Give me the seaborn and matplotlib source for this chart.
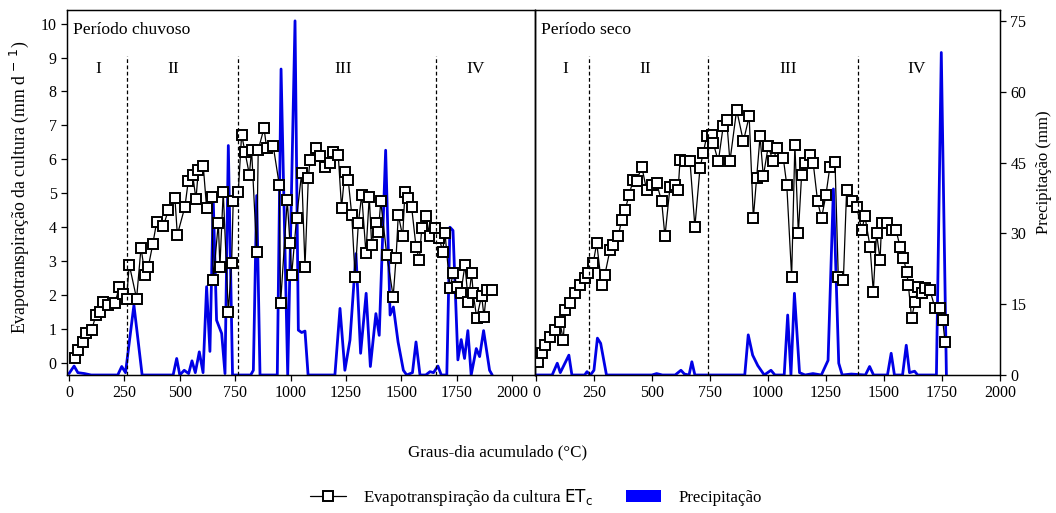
import matplotlib
matplotlib.use("Agg")
import matplotlib.pyplot as plt
import seaborn as sns
from matplotlib.lines import Line2D
from matplotlib.patches import Patch

# Evapotranspiration (ETc) - rainy period
gd_et_chuvoso = [27, 42, 62, 77, 102, 122, 140, 155, 177, 208, 227, 245, 260, 272, 305,
                 325, 343, 358, 378, 396, 426, 448, 478, 489, 523, 538, 558, 573, 584, 606,
                 621, 644, 651, 674, 681, 696, 719, 734, 741, 764, 779, 794, 814, 824, 847,
                 854, 880, 892, 922, 949, 955, 985, 997, 1005, 1027, 1050, 1065, 1080, 1088,
                 1115, 1133, 1155, 1178, 1193, 1215, 1230, 1245, 1260, 1276, 1291, 1306,
                 1321, 1340, 1355, 1366, 1385, 1396, 1407, 1434, 1463, 1476, 1486, 1506,
                 1516, 1531, 1546, 1566, 1581, 1592, 1611, 1629, 1652, 1671, 1686, 1697,
                 1719, 1734, 1752, 1768, 1787, 1802, 1817, 1824, 1840, 1862, 1873, 1885, 1910]
et_chuvoso = [0.15, 0.38, 0.63, 0.88, 0.97, 1.42, 1.51, 1.80, 1.71, 1.77, 2.25, 2.05, 1.90,
              2.90, 1.90, 3.40, 2.60, 2.84, 3.50, 4.17, 4.04, 4.50, 4.86, 3.78, 4.60, 5.35,
              5.55, 4.83, 5.70, 5.80, 4.57, 4.90, 2.45, 4.14, 2.84, 5.05, 1.51, 2.95, 4.76,
              5.05, 6.73, 6.23, 5.55, 6.28, 3.28, 6.28, 6.92, 6.34, 6.38, 5.25, 1.77, 4.80,
              3.54, 2.60, 4.27, 5.60, 2.84, 5.45, 5.99, 6.34, 6.09, 5.79, 5.90, 6.23, 6.14,
              4.57, 5.64, 5.40, 4.37, 2.55, 4.13, 4.96, 3.24, 4.90, 3.48, 4.13, 3.87, 4.76,
              3.19, 1.96, 3.10, 4.37, 3.73, 5.05, 4.87, 4.61, 3.43, 3.04, 3.98, 4.32, 3.73,
              3.98, 3.69, 3.28, 3.83, 2.20, 2.65, 2.25, 2.06, 2.89, 1.81, 2.65, 2.06, 1.33,
              1.99, 1.37, 2.15, 2.15]

# Evapotranspiration (ETc) - dry period
gd_et_seco = [10, 25, 39, 60, 82, 103, 118, 125, 147, 168, 190, 211, 225, 247, 262, 283,
              297, 319, 333, 355, 369, 384, 402, 419, 434, 456, 477, 499, 520, 542, 556,
              578, 599, 613, 621, 642, 664, 685, 707, 721, 736, 757, 764, 786, 807, 822,
              836, 865, 894, 919, 937, 951, 966, 980, 1001, 1023, 1038, 1066, 1081, 1102,
              1116, 1131, 1145, 1159, 1181, 1195, 1214, 1231, 1250, 1267, 1289, 1303, 1325,
              1339, 1361, 1382, 1404, 1418, 1440, 1454, 1468, 1483, 1490, 1512, 1533, 1552,
              1569, 1583, 1598, 1605, 1619, 1634, 1648, 1662, 1677, 1698, 1720, 1741, 1753,
              1763]
et_seco = [0.04, 0.29, 0.53, 0.78, 0.97, 1.22, 0.68, 1.56, 1.77, 2.06, 2.30, 2.50, 2.65,
           2.95, 3.54, 2.30, 2.60, 3.33, 3.48, 3.73, 4.22, 4.51, 4.96, 5.40, 5.35, 5.79,
           5.10, 5.25, 5.30, 4.76, 3.73, 5.20, 5.25, 5.10, 5.99, 5.94, 5.94, 4.02, 5.74,
           6.19, 6.68, 6.73, 6.49, 5.94, 6.97, 7.17, 5.94, 7.46, 6.53, 7.27, 4.27, 5.45,
           6.68, 5.50, 6.38, 5.94, 6.34, 6.04, 5.25, 2.55, 6.43, 3.83, 5.55, 5.89, 6.14,
           5.89, 4.76, 4.27, 4.96, 5.79, 5.92, 2.55, 2.45, 5.10, 4.76, 4.61, 3.92, 4.32,
           3.43, 2.10, 3.83, 3.04, 4.13, 4.13, 3.92, 3.92, 3.43, 3.10, 2.69, 2.30, 1.33,
           1.81, 2.25, 2.06, 2.20, 2.15, 1.62, 1.62, 1.27, 0.63]

# Precipitation - rainy period
gd_p_chuvoso = [0, 23, 40, 70, 100, 220, 238, 255, 293, 330, 470, 486, 500, 520, 540, 555,
                570, 588, 605, 621, 636, 651, 666, 689, 704, 719, 738, 820, 832, 847, 862,
                940, 957, 987, 1020, 1035, 1050, 1065, 1079, 1200, 1223, 1245, 1268, 1295,
                1316, 1341, 1360, 1385, 1400, 1429, 1449, 1464, 1485, 1509, 1524, 1550, 1566,
                1584, 1610, 1629, 1645, 1665, 1680, 1705, 1719, 1733, 1755, 1770, 1785, 1800,
                1815, 1838, 1853, 1871, 1898, 1910]
p_chuvoso = [0.3, 1.9, 0.5, 0.3, 0, 0, 1.8, 0.5, 14.8, 0, 0, 3.5, 0, 1.0, 0.3, 3.0,
             0.5, 4.9, 0.5, 18.7, 5.0, 37.0, 11.6, 8.8, 0.3, 48.6, 0, 0, 1.0, 38.0, 0,
             0, 64.8, 0, 75.0, 9.5, 9.0, 9.3, 0, 0, 14.1, 1.0, 7.4, 25.7,
             4.6, 17.3, 1.8, 13.0, 8.4, 47.6, 12.7, 14.4, 7.0, 1.0, 0, 0.5, 7.0,
             0, 0, 0.7, 0.5, 1.9, 0, 0, 31.3, 30.6, 3.2, 7.5, 3.5, 9.4,
             0, 5.6, 3.9, 9.4, 1.0, 0]

# Precipitation - dry period
gd_p_seco = [0, 70, 92, 105, 142, 155, 210, 220, 235, 250, 265, 279, 304, 500, 520, 545,
             600, 625, 640, 660, 672, 685, 900, 915, 934, 956, 984, 1013, 1030, 1070, 1085,
             1099, 1114, 1136, 1160, 1194, 1230, 1259, 1282, 1305, 1320, 1359, 1420, 1438,
             1455, 1515, 1531, 1545, 1580, 1596, 1610, 1632, 1645, 1726, 1747, 1769]
p_seco = [0, 0, 2.5, 0.5, 4.2, 0, 0, 0.7, 0, 1.0, 7.8, 6.7, 0, 0, 0.3, 0,
          0, 1.0, 0.2, 0, 2.8, 0, 0, 8.5, 4.2, 2.0, 0, 1.0, 0, 0, 12.7,
          0, 17.3, 0.5, 0, 0.3, 0, 3.1, 39.4, 2.5, 0, 0.2, 0, 1.8,
          0, 0, 4.6, 0, 0, 6.3, 0.5, 0.8, 0, 0, 68.3, 0]

# Phenological phase limits and labels
fases_chuvoso = [260, 761, 1655]
fases_seco = [230, 743, 1389]
rotulos = ["I", "II", "III", "IV"]
pos_rotulos_chuvoso = [132, 471, 1238, 1835]
pos_rotulos_seco = [125, 470, 1087, 1641]

sns.set_style("ticks")
plt.rcParams["font.family"] = ["Liberation Serif", "DejaVu Serif"]
plt.rcParams["mathtext.fontset"] = "dejavusans"
plt.rcParams["axes.edgecolor"] = "black"
plt.rcParams["xtick.color"] = "black"
plt.rcParams["ytick.color"] = "black"
plt.rcParams["text.color"] = "black"
plt.rcParams["axes.labelcolor"] = "black"

fig = plt.figure(figsize=(10.56, 5.13), dpi=100)
W, H = 1056, 513
bottom, top = 375, 10
ax1 = fig.add_axes([67 / W, 1 - bottom / H, (535 - 67) / W, (bottom - top) / H])
ax2 = fig.add_axes([535 / W, 1 - bottom / H, (1000 - 535) / W, (bottom - top) / H], sharey=ax1)
ax1t = ax1.twinx()
ax2t = ax2.twinx()

blue = "#0000e6"
et_style = dict(color="black", lw=0.9, marker="s", markersize=7.4,
                markerfacecolor="white", markeredgecolor="black", markeredgewidth=1.4)

panels = [
    (ax1, ax1t, gd_et_chuvoso, et_chuvoso, gd_p_chuvoso, p_chuvoso, fases_chuvoso,
     pos_rotulos_chuvoso, "Período chuvoso", (-9, 2103)),
    (ax2, ax2t, gd_et_seco, et_seco, gd_p_seco, p_seco, fases_seco,
     pos_rotulos_seco, "Período seco", (-4, 2000)),
]

for ax, axt, gd_et, et, gd_p, p, fases, pos_rot, titulo, xlim in panels:
    sns.lineplot(x=gd_p, y=p, ax=axt, color=blue, lw=2, legend=False)
    sns.lineplot(x=gd_et, y=et, ax=ax, legend=False, **et_style)
    ax.set_zorder(axt.get_zorder() + 1)
    ax.patch.set_visible(False)
    ax.vlines(fases, -0.35, 9.05, colors="black", linestyles=(0, (3, 2)), lw=0.9)
    for r, xr in zip(rotulos, pos_rot):
        ax.text(xr, 8.65, r, ha="center", va="center", fontsize=12.5)
    ax.text(0.012, 0.945, titulo, transform=ax.transAxes, ha="left", va="center", fontsize=12.6)
    ax.set_xlim(*xlim)
    ax.set_xticks([0, 250, 500, 750, 1000, 1250, 1500, 1750, 2000])
    axt.set_ylim(0, 77.3)
    axt.set_yticks([0, 15, 30, 45, 60, 75])
    ax.set_xlabel("")
    ax.set_ylabel("")
    axt.set_ylabel("")
    for a in (ax, axt):
        for s in a.spines.values():
            s.set_visible(True)
            s.set_linewidth(0.9)
        a.tick_params(labelsize=11.5, length=4, width=0.9)

ax1.set_ylim(-0.35, 10.4)
ax1.set_yticks(range(0, 11))
ax1.set_ylabel("Evapotranspiração da cultura (mm d$^{\\,-\\,1}$)", fontsize=12.8)
ax1.yaxis.set_label_coords(-0.077, 0.515)
ax2.tick_params(axis="y", left=False, labelleft=False)
ax1t.tick_params(axis="y", right=False, labelright=False)
ax2t.set_ylabel("Precipitação (mm)", fontsize=12)
ax2t.yaxis.set_label_coords(1.077, 0.556)

fig.text(498 / W, 1 - 452 / H, "Graus-dia acumulado (°C)", ha="center", va="center", fontsize=12.2)

handles = [
    Line2D([], [], **et_style),
    Patch(facecolor="blue", edgecolor="none"),
]
labels = [r"Evapotranspiração da cultura $\mathrm{ET}_\mathrm{c}$", "Precipitação"]
fig.legend(handles, labels, loc="center", bbox_to_anchor=(536 / W, 1 - 497 / H), ncol=2,
           frameon=False, fontsize=12.2, columnspacing=1.95, handlelength=2.1, handletextpad=1.0)

fig.savefig("out.png", dpi=100, facecolor="white")
